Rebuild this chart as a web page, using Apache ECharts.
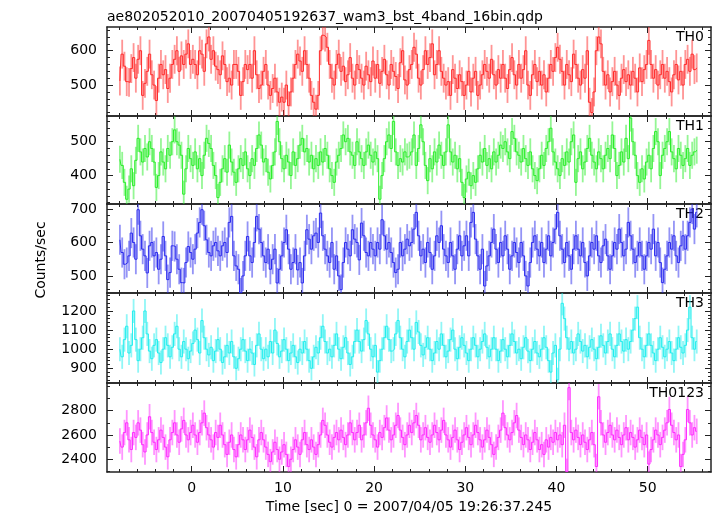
<!DOCTYPE html>
<html>
<head>
<meta charset="utf-8">
<script src="https://cdn.jsdelivr.net/npm/echarts@6/dist/echarts.min.js"></script>
<style>
html,body{margin:0;padding:0;background:#fff;}
#chart{width:717px;height:516px;}
</style>
</head>
<body>
<div id="chart"></div>
<script>
// ---- data (0.25 s bins starting at t = -7.875 s) ----
const T0 = -7.875;
const BIN = 0.25;
const panelNames = ['TH0', 'TH1', 'TH2', 'TH3', 'TH0123'];
const xTickLabels = [0, 10, 20, 30, 40, 50];

const th0 = [
512,590,555,510,508,548,580,520,
575,600,470,505,540,590,530,500,
455,520,560,530,545,490,520,560,
575,600,540,585,560,590,620,560,
575,560,530,600,590,540,620,640,
575,600,555,545,530,585,560,510,
520,500,560,560,540,470,510,560,
545,560,520,600,530,490,500,540,
560,500,470,490,520,480,450,465,
450,500,440,480,520,560,590,570,
540,600,560,520,470,450,430,470,
600,645,640,610,560,520,500,560,
590,540,555,510,530,580,520,500,
560,545,520,500,555,530,510,570,
520,560,505,540,575,530,500,560,
540,525,490,565,600,515,500,545,
560,610,590,520,500,545,600,560,
580,620,530,560,600,540,520,500,
510,470,545,520,490,530,510,470,
500,540,480,520,540,470,500,530,
560,540,520,575,530,500,545,520,
560,520,490,545,580,530,500,560,
520,545,600,500,470,530,560,510,
540,500,530,480,520,560,540,580,
610,575,540,500,560,530,510,590,
560,520,500,545,520,600,450,420,
480,600,640,620,540,500,530,480,
510,540,500,470,520,545,510,530,
500,540,520,480,550,510,545,560,
630,560,520,545,500,530,560,520,
540,510,480,530,560,515,540,500,
560,575,540,590,545,550
];

const th1 = [
448,430,380,330,360,420,370,445,
510,470,440,480,455,500,480,440,
365,400,470,440,420,480,460,500,
535,500,490,460,345,420,480,450,
430,470,420,450,400,460,510,495,
480,430,400,335,380,420,450,410,
490,440,410,380,420,450,430,470,
420,400,450,430,480,520,490,440,
450,410,390,430,470,560,500,450,
420,460,440,400,470,430,450,490,
510,470,480,440,460,420,450,430,
470,440,480,460,420,400,380,440,
460,480,520,500,510,470,460,430,
500,470,450,430,470,490,460,440,
470,450,330,400,450,500,520,480,
560,470,430,450,440,470,455,460,
470,520,430,480,550,500,430,385,
450,420,470,440,490,460,430,470,
550,470,440,460,420,450,380,335,
390,410,370,400,380,420,460,440,
480,430,450,420,470,440,460,490,
480,500,470,450,530,510,470,460,
440,480,450,430,470,420,400,385,
420,460,430,480,500,540,470,440,
420,400,450,430,470,440,500,520,
380,450,470,420,440,480,510,460,
440,420,470,450,420,460,480,450,
520,480,400,430,470,440,510,450,
570,500,460,400,380,420,390,440,
460,420,480,530,500,400,460,480,
500,530,470,450,420,480,460,430,
450,480,430,460,470,475
];

const th2 = [
608,570,535,540,560,628,600,550,
698,620,580,560,509,590,600,560,
570,520,550,618,560,489,510,590,
588,550,520,480,479,540,588,570,
550,580,628,660,698,650,608,570,
560,590,600,575,560,590,600,570,
660,678,560,530,520,449,500,560,
618,560,540,600,678,640,600,560,
540,580,520,550,580,479,520,560,
600,638,580,520,540,580,518,540,
479,560,638,610,580,620,628,600,
688,620,580,560,540,600,520,560,
500,459,540,600,580,560,638,610,
600,548,658,620,570,560,600,580,
560,600,580,668,620,580,600,570,
540,510,520,600,560,580,610,590,
600,640,690,620,560,580,540,600,
570,520,560,620,600,650,580,560,
540,600,560,520,580,620,560,590,
620,560,660,690,610,560,520,580,
470,530,560,600,640,580,540,600,
560,620,580,520,560,600,570,540,
600,560,500,470,540,600,620,580,
560,600,540,580,620,560,600,640,
690,620,580,540,600,560,520,580,
620,580,560,600,540,500,560,600,
580,620,560,540,590,610,560,520,
560,600,580,640,600,560,580,660,
620,580,540,560,600,560,520,560,
600,580,640,560,600,540,480,520,
560,600,580,620,560,540,590,620,
580,620,660,700,640,690
];

const th3 = [
1000,960,1050,1120,980,1020,1200,1050,
940,1000,1060,1200,1080,990,950,1020,
1050,980,930,1000,1060,1020,960,1010,
1080,1120,1000,960,1040,1000,950,990,
1030,1100,1050,980,1150,1060,1000,970,
1010,940,990,1050,1000,930,960,1020,
980,1040,960,900,950,1000,1050,990,
940,1000,980,920,1020,1080,1000,950,
1000,960,1040,980,1100,1030,960,990,
1050,1000,940,980,1020,960,930,1000,
980,1040,1000,940,900,960,1010,980,
1060,1120,1040,980,1000,960,1020,1080,
1000,950,1010,1060,980,920,960,1040,
1100,1040,990,1050,1150,1080,1000,960,
1020,880,940,1000,1060,1120,1050,990,
1000,1080,1150,1060,1000,960,1040,1100,
1060,1000,1140,1090,1020,970,1010,1060,
1000,940,980,1040,1000,1080,1020,960,
990,1050,1100,1000,950,1010,1060,1020,
980,940,1000,1060,1020,960,1000,1040,
1080,1010,960,1000,1060,1000,940,990,
1050,1000,960,1020,1080,1040,980,1000,
950,1010,1060,990,940,1000,1040,980,
960,1000,1060,1010,940,880,980,1020,
840,1000,1240,1160,1060,1000,1040,980,
1000,1080,1040,990,1020,960,1010,1050,
1000,950,1010,1070,1020,980,1040,1080,
1000,960,1020,1080,1040,990,1050,1000,
1040,1100,1160,1220,1060,1000,960,1020,
1080,1020,980,940,1000,1060,1010,960,
1000,1040,980,940,1000,1060,1010,980,
1020,1100,1220,1060,1000,1040
];

const th0123 = [
2550,2500,2620,2700,2560,2480,2620,2580,
2700,2640,2520,2460,2600,2750,2620,2540,
2480,2560,2640,2580,2500,2420,2560,2620,
2700,2600,2540,2650,2720,2600,2560,2620,
2680,2600,2540,2620,2700,2780,2660,2600,
2560,2500,2620,2580,2680,2600,2520,2440,
2540,2600,2480,2420,2520,2600,2560,2480,
2560,2640,2580,2500,2420,2560,2620,2560,
2500,2440,2380,2460,2540,2480,2400,2460,
2520,2440,2340,2400,2480,2560,2500,2440,
2560,2620,2520,2480,2560,2500,2440,2520,
2600,2720,2680,2600,2540,2500,2580,2620,
2560,2640,2580,2520,2600,2700,2620,2560,
2620,2680,2560,2600,2700,2820,2680,2600,
2560,2500,2620,2580,2660,2740,2640,2560,
2600,2680,2760,2640,2580,2520,2600,2680,
2620,2700,2760,2680,2560,2600,2660,2580,
2540,2600,2680,2620,2560,2640,2720,2600,
2560,2500,2580,2640,2560,2480,2540,2600,
2660,2580,2520,2600,2680,2620,2560,2500,
2560,2640,2580,2520,2440,2500,2580,2640,
2780,2660,2600,2560,2620,2700,2760,2640,
2580,2520,2600,2560,2480,2540,2620,2560,
2480,2520,2440,2560,2500,2580,2540,2620,
2560,2600,2520,2680,2300,2990,2620,2560,
2640,2580,2520,2600,2540,2480,2560,2620,
2520,2340,2915,2700,2600,2540,2620,2680,
2600,2560,2640,2580,2520,2600,2660,2560,
2620,2580,2500,2560,2640,2580,2520,2600,
2360,2480,2560,2640,2600,2520,2580,2640,
2700,2810,2680,2620,2560,2600,2340,2440,
2560,2810,2700,2600,2660,2630
];

// typical 1-sigma error per panel (counts/sec)
const errors = [42, 40, 45, 63, 105];
const yMajorTicks = [[500, 600], [400, 500], [500, 600, 700], [900, 1000, 1100, 1200], [2400, 2600, 2800]];
const yMinorStep = [20, 20, 20, 20, 100];
const yRanges = [[410, 669], [316, 576], [449, 715], [823, 1294], [2295, 3028]];

// ---- style / layout ----
const seriesData = [th0, th1, th2, th3, th0123];
const colors = ['#ff2a2a', '#2aee2a', '#2a2aee', '#22eeee', '#ff2aff'];
const tops = [27, 116, 204, 293, 383];
const heights = [89, 88, 89, 90, 89];
const GL = 107, GR = 6;
const XMIN = -9.29, XMAX = 56.94;
const FONT = 'DejaVu Sans';
const frame = '#222';

function minorValues(min, max, step) {
  const out = [];
  for (let v = Math.ceil(min / step) * step; v <= max; v += step) out.push(v);
  return out;
}
const xMinor = minorValues(XMIN, XMAX, 2);

const grids = [], xAxes = [], yAxes = [], series = [], graphics = [];

for (let i = 0; i < 5; i++) {
  const yMin = yRanges[i][0], yMax = yRanges[i][1];
  const yMinor = minorValues(yMin, yMax, yMinorStep[i]);
  for (let k = 0; k < 2; k++) {
    const major = (k === 0);
    const g = grids.length;
    grids.push({left: GL, right: GR, top: tops[i], height: heights[i],
      containLabel: false, outerBoundsMode: 'none'});
    ['bottom', 'top'].forEach(pos => {
      xAxes.push({
        type: 'value', gridIndex: g, position: pos, min: XMIN, max: XMAX,
        axisLine: {show: true, onZero: false,
          lineStyle: {color: major ? frame : 'rgba(0,0,0,0)', width: 1.5}},
        axisTick: {show: true, inside: true, length: major ? 6 : 3,
          customValues: major ? xTickLabels : xMinor, lineStyle: {color: frame, width: 1}},
        axisLabel: {show: major && pos === 'bottom' && i === 4, customValues: xTickLabels,
          formatter: v => String(v),
          margin: 9, color: '#000', fontSize: 14, fontFamily: FONT},
        splitLine: {show: false},
        name: (major && pos === 'bottom' && i === 4) ? 'Time [sec] 0 = 2007/04/05 19:26:37.245' : '',
        nameLocation: 'middle', nameGap: 28,
        nameTextStyle: {color: '#000', fontSize: 14, fontFamily: FONT}
      });
    });
    ['left', 'right'].forEach(pos => {
      yAxes.push({
        type: 'value', gridIndex: g, position: pos, min: yMin, max: yMax,
        axisLine: {show: true, onZero: false,
          lineStyle: {color: major ? frame : 'rgba(0,0,0,0)', width: 1.5}},
        axisTick: {show: true, inside: true, length: major ? 6 : 3,
          customValues: major ? yMajorTicks[i] : yMinor, lineStyle: {color: frame, width: 1}},
        axisLabel: {show: major && pos === 'left', customValues: yMajorTicks[i],
          formatter: v => String(v),
          margin: 10, color: '#000', fontSize: 14, fontFamily: FONT},
        splitLine: {show: false}
      });
    });
  }
  const xi = 4 * i, yi = 4 * i;
  const color = colors[i];
  const err = errors[i];
  const pts = seriesData[i].map((v, j) => [T0 + j * BIN, v]);
  series.push({
    type: 'custom', xAxisIndex: xi, yAxisIndex: yi, clip: true, silent: true, animation: false,
    data: pts, encode: {x: 0, y: 1},
    renderItem: function (params, api) {
      const x = api.value(0), y = api.value(1);
      const p1 = api.coord([x, y - err]);
      const p2 = api.coord([x, y + err]);
      return {type: 'line', shape: {x1: p1[0], y1: p1[1], x2: p2[0], y2: p2[1]},
        style: {stroke: color, lineWidth: 1.8, opacity: 0.5}};
    }
  });
  series.push({
    type: 'line', step: 'middle', xAxisIndex: xi, yAxisIndex: yi, data: pts,
    symbol: 'none', showSymbol: false, clip: true, silent: true, animation: false,
    lineStyle: {color: color, width: 1}
  });
  graphics.push({
    type: 'text', x: 704, y: tops[i] + 3, silent: true,
    style: {text: panelNames[i], textAlign: 'right', textVerticalAlign: 'top',
      font: '14px "' + FONT + '"', fill: '#000'}
  });
}

graphics.push({
  type: 'text', x: 41, y: 260, rotation: Math.PI / 2, silent: true,
  style: {text: 'Counts/sec', textAlign: 'center', textVerticalAlign: 'middle',
    font: '14px "' + FONT + '"', fill: '#000'}
});

const chart = echarts.init(document.getElementById('chart'), null, {renderer: 'canvas'});
chart.setOption({
  animation: false,
  backgroundColor: '#fff',
  title: {text: 'ae802052010_20070405192637_wam3_bst_4band_16bin.qdp', left: 102, top: 5,
    textStyle: {color: '#000', fontSize: 14, fontWeight: 'normal', fontFamily: FONT}},
  grid: grids, xAxis: xAxes, yAxis: yAxes, series: series, graphic: graphics
});
</script>
</body>
</html>
